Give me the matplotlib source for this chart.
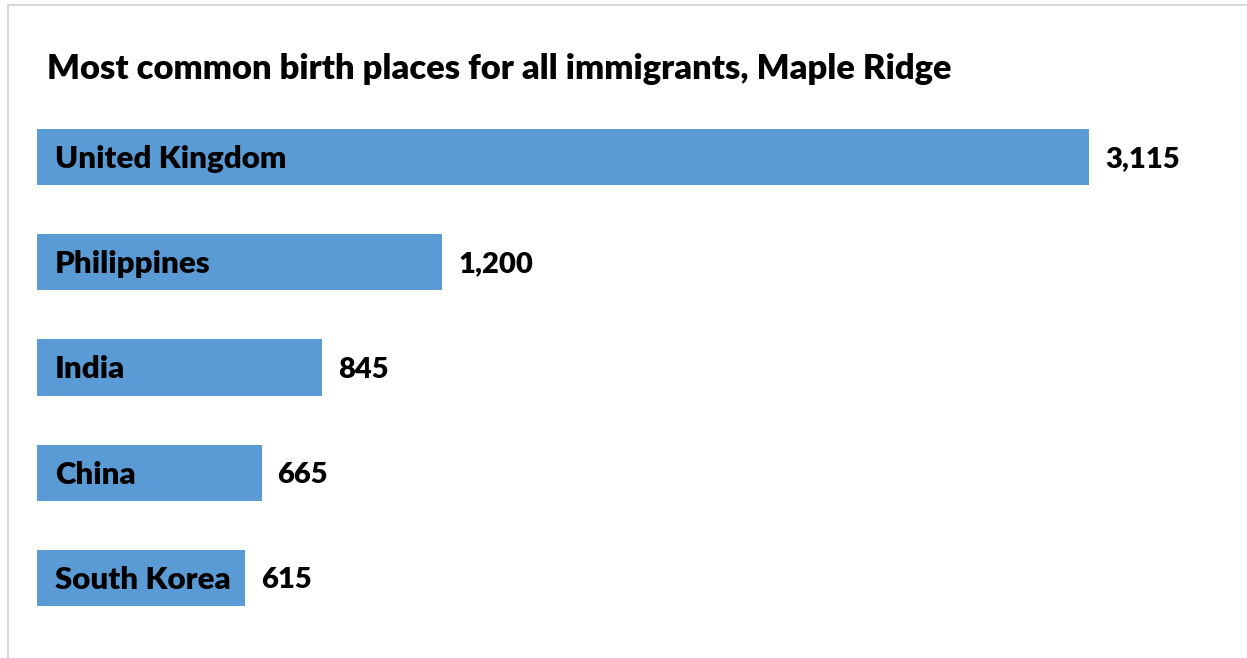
import matplotlib
matplotlib.use("Agg")
import matplotlib.pyplot as plt
from matplotlib.lines import Line2D

countries = ["United Kingdom", "Philippines", "India", "China", "South Korea"]
immigrants = [3115, 1200, 845, 665, 615]
title = "Most common birth places for all immigrants, Maple Ridge"

BAR_COLOR = "#5b9bd5"
FONT = "Lato"
WEIGHT = "heavy"

W, H = 1247, 658
fig = plt.figure(figsize=(W / 100, H / 100), dpi=100)
fig.patch.set_facecolor("white")

# light frame on the left and top
fig.add_artist(Line2D([8 / W, 8 / W], [0, 1 - 5 / H], transform=fig.transFigure,
                      color="#d9d9d9", lw=1.5))
fig.add_artist(Line2D([8 / W, 1], [1 - 5 / H, 1 - 5 / H], transform=fig.transFigure,
                      color="#d9d9d9", lw=1.5))

left_px, top_px, bottom_px = 37, 104.4, 630.6
ax = fig.add_axes([left_px / W, 1 - bottom_px / H, (W - left_px) / W,
                   (bottom_px - top_px) / H])
ax.set_xlim(0, (W - left_px) / 0.3377)
ax.set_ylim(len(countries) - 0.5, -0.5)
ax.axis("off")

ypos = list(range(len(countries)))
ax.barh(ypos, immigrants, height=0.533, color=BAR_COLOR, edgecolor="none")

for y, name, v in zip(ypos, countries, immigrants):
    ax.annotate(name, xy=(0, y), xytext=(18, -2), textcoords="offset pixels",
                ha="left", va="center", fontsize=22.5, fontweight=WEIGHT,
                family=FONT, color="black")
    ax.annotate(f"{v:,}", xy=(v, y), xytext=(16, -2), textcoords="offset pixels",
                ha="left", va="center", fontsize=21, fontweight=WEIGHT,
                family=FONT, color="black")

fig.text(47 / W, 1 - 69 / H, title, ha="left", va="center", fontsize=24.8,
         fontweight=WEIGHT, family=FONT, color="black")

fig.savefig("out.png", dpi=100)
